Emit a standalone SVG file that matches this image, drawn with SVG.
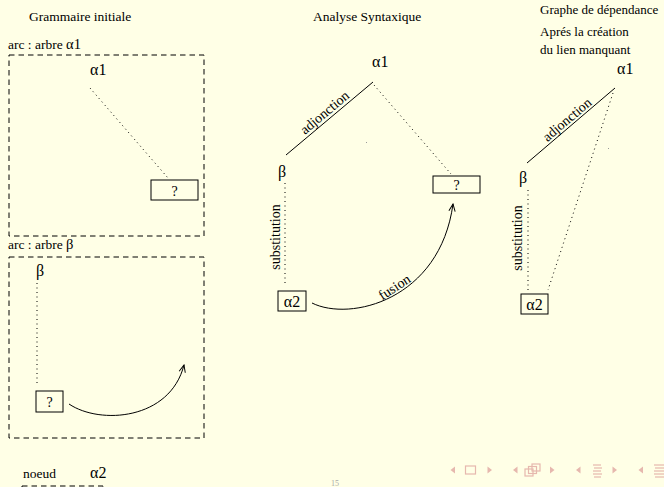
<svg xmlns="http://www.w3.org/2000/svg" width="664" height="487" viewBox="0 0 664 487">
<style>
  text { font-family: "Liberation Serif", "DejaVu Serif", serif; fill: #000; }
  .t { font-size: 13.5px; }
  .sym { font-size: 16px; }
  .lbl { font-size: 14px; }
  .box { fill: none; stroke: #000; stroke-width: 1; }
  .dash { fill: none; stroke: #000; stroke-width: 1; stroke-dasharray: 5.5 4; }
  .dot { fill: none; stroke: #000; stroke-width: 1; stroke-dasharray: 1 3.5; }
  .solid { fill: none; stroke: #000; stroke-width: 1; }
  .nav { fill: none; stroke: #E6B8AE; stroke-width: 1.2; }
  .navf { fill: #E6B8AE; }
</style>
<defs>
  <marker id="arr" viewBox="0 0 10 10" refX="9" refY="5" markerWidth="9" markerHeight="9" markerUnits="userSpaceOnUse" orient="auto">
    <path d="M1,1.5 L9,5 L1,8.5" fill="none" stroke="#000" stroke-width="1.1"/>
  </marker>
</defs>
<rect width="664" height="487" fill="#FFFFE6"/>

<!-- Headings -->
<g id="headings">
  <text class="t" x="29" y="21">Grammaire initiale</text>
  <text class="t" x="313" y="21">Analyse Syntaxique</text>
  <text class="t" x="540" y="14" style="font-size:13px">Graphe de dépendance</text>
  <text class="t" x="540" y="36" style="font-size:13px">Aprés la création</text>
  <text class="t" x="540" y="54" style="font-size:13px">du lien manquant</text>
</g>

<!-- Column 1: initial grammar -->
<g id="tree-alpha1">
  <text class="t" x="8" y="49">arc : arbre <tspan style="font-size:14.5px">α1</tspan></text>
  <rect class="dash" x="9" y="55" width="195" height="181"/>
</g>
<g id="g1-alpha1">
  <text class="sym" x="90" y="75">α1</text>
</g>
<g id="g1-q1">
  <rect class="box" x="151" y="180" width="47" height="20"/>
  <text class="t" x="174.5" y="196" text-anchor="middle" style="font-size:14px">?</text>
</g>

<g id="tree-beta">
  <text class="t" x="8" y="249">arc : arbre <tspan style="font-size:14.5px">β</tspan></text>
  <rect class="dash" x="9" y="257" width="195" height="181"/>
</g>
<g id="g1-beta">
  <text class="sym" x="36" y="276">β</text>
</g>
<g id="g1-q2">
  <rect class="box" x="36" y="391" width="27" height="21"/>
  <text class="t" x="49.5" y="406.5" text-anchor="middle" style="font-size:14px">?</text>
</g>

<g id="noeud-alpha2">
  <text class="t" x="23" y="478">noeud</text>
  <text class="sym" x="90" y="478">α2</text>
  <rect class="dash" x="22" y="486" width="81" height="30"/>
</g>

<!-- Column 2: syntactic analysis -->
<g id="a-alpha1">
  <text class="sym" x="372" y="67">α1</text>
</g>
<g id="a-beta">
  <text class="sym" x="278" y="177">β</text>
</g>
<g id="a-q">
  <rect class="box" x="433" y="176" width="47" height="17"/>
  <text class="t" x="456.5" y="189.5" text-anchor="middle" style="font-size:14px">?</text>
</g>
<g id="a-alpha2">
  <rect class="box" x="278" y="291" width="28" height="20"/>
  <text class="sym" x="292" y="306.5" text-anchor="middle">α2</text>
</g>

<!-- Column 3: dependency graph -->
<g id="d-alpha1">
  <text class="sym" x="617" y="74">α1</text>
</g>
<g id="d-beta">
  <text class="sym" x="519" y="183">β</text>
</g>
<g id="d-alpha2">
  <rect class="box" x="521" y="294" width="27" height="20"/>
  <text class="sym" x="534.5" y="309.5" text-anchor="middle">α2</text>
</g>

<!-- Connectors -->
<g id="connectors">
  <!-- column 1 -->
  <line class="dot" x1="90" y1="88" x2="168" y2="178"/>
  <line class="dot" x1="37" y1="283" x2="37" y2="385"/>
  <path class="solid" d="M69,404 C100,425 170,420 184,365" marker-end="url(#arr)"/>

  <!-- column 2 -->
  <line class="solid" x1="373" y1="82" x2="286" y2="155"/>
  <text class="lbl" text-anchor="middle" transform="translate(327.6,116) rotate(-40)">adjonction</text>
  <line class="dot" x1="374" y1="85" x2="451" y2="174"/>
  <line class="dot" x1="285" y1="183" x2="285" y2="284"/>
  <text class="lbl" text-anchor="middle" transform="translate(280,237) rotate(-90)">substitution</text>
  <path class="solid" d="M312,303 C350,322 440,300 453,204" marker-end="url(#arr)"/>
  <text class="lbl" text-anchor="middle" transform="translate(397,291) rotate(-33)">fusion</text>

  <!-- column 3 -->
  <line class="solid" x1="615" y1="88" x2="527" y2="163"/>
  <text class="lbl" text-anchor="middle" transform="translate(570,123) rotate(-40.4)">adjonction</text>
  <line class="dot" x1="613" y1="93" x2="548" y2="290"/>
  <line class="dot" x1="528" y1="190" x2="528" y2="290"/>
  <text class="lbl" text-anchor="middle" transform="translate(522,238) rotate(-90)">substitution</text>
</g>

<!-- stray dots -->
<g id="specks">
  <rect x="366" y="142" width="1" height="1" fill="#999"/>
  <rect x="608" y="148" width="1" height="1" fill="#999"/>
</g>

<!-- page number -->
<g id="page">
  <text x="335" y="486" text-anchor="middle" style="font-size:8px; fill:#aaa;">15</text>
</g>

<!-- Beamer navigation symbols -->
<g id="nav">
  <polygon class="navf" points="455,466.5 450.5,470 455,473.5"/>
  <rect class="nav" x="465.5" y="466" width="10" height="8"/>
  <polygon class="navf" points="487.5,466.5 492,470 487.5,473.5"/>

  <polygon class="navf" points="517.5,466.5 513,470 517.5,473.5"/>
  <rect class="nav" x="532" y="464" width="8" height="7"/>
  <rect class="nav" x="528.5" y="466.5" width="8" height="7"/>
  <rect class="nav" x="525" y="469" width="8" height="7" fill="#FFFFE6"/>
  <polygon class="navf" points="550,466.5 554.5,470 550,473.5"/>

  <polygon class="navf" points="580.5,466.5 576,470 580.5,473.5"/>
  <g class="nav">
    <line x1="593" y1="465" x2="601" y2="465"/>
    <line x1="594" y1="468" x2="602" y2="468"/>
    <line x1="593" y1="471" x2="601" y2="471"/>
    <line x1="593" y1="474" x2="602" y2="474"/>
    <line x1="594" y1="477" x2="601" y2="477"/>
  </g>
  <polygon class="navf" points="612.5,466.5 617,470 612.5,473.5"/>

  <polygon class="navf" points="643,466.5 638.5,470 643,473.5"/>
  <g class="nav">
    <line x1="654" y1="465" x2="664" y2="465"/>
    <line x1="655" y1="468" x2="664" y2="468"/>
    <line x1="654" y1="471" x2="664" y2="471"/>
    <line x1="654" y1="474" x2="664" y2="474"/>
    <line x1="655" y1="477" x2="664" y2="477"/>
  </g>
</g>
</svg>
